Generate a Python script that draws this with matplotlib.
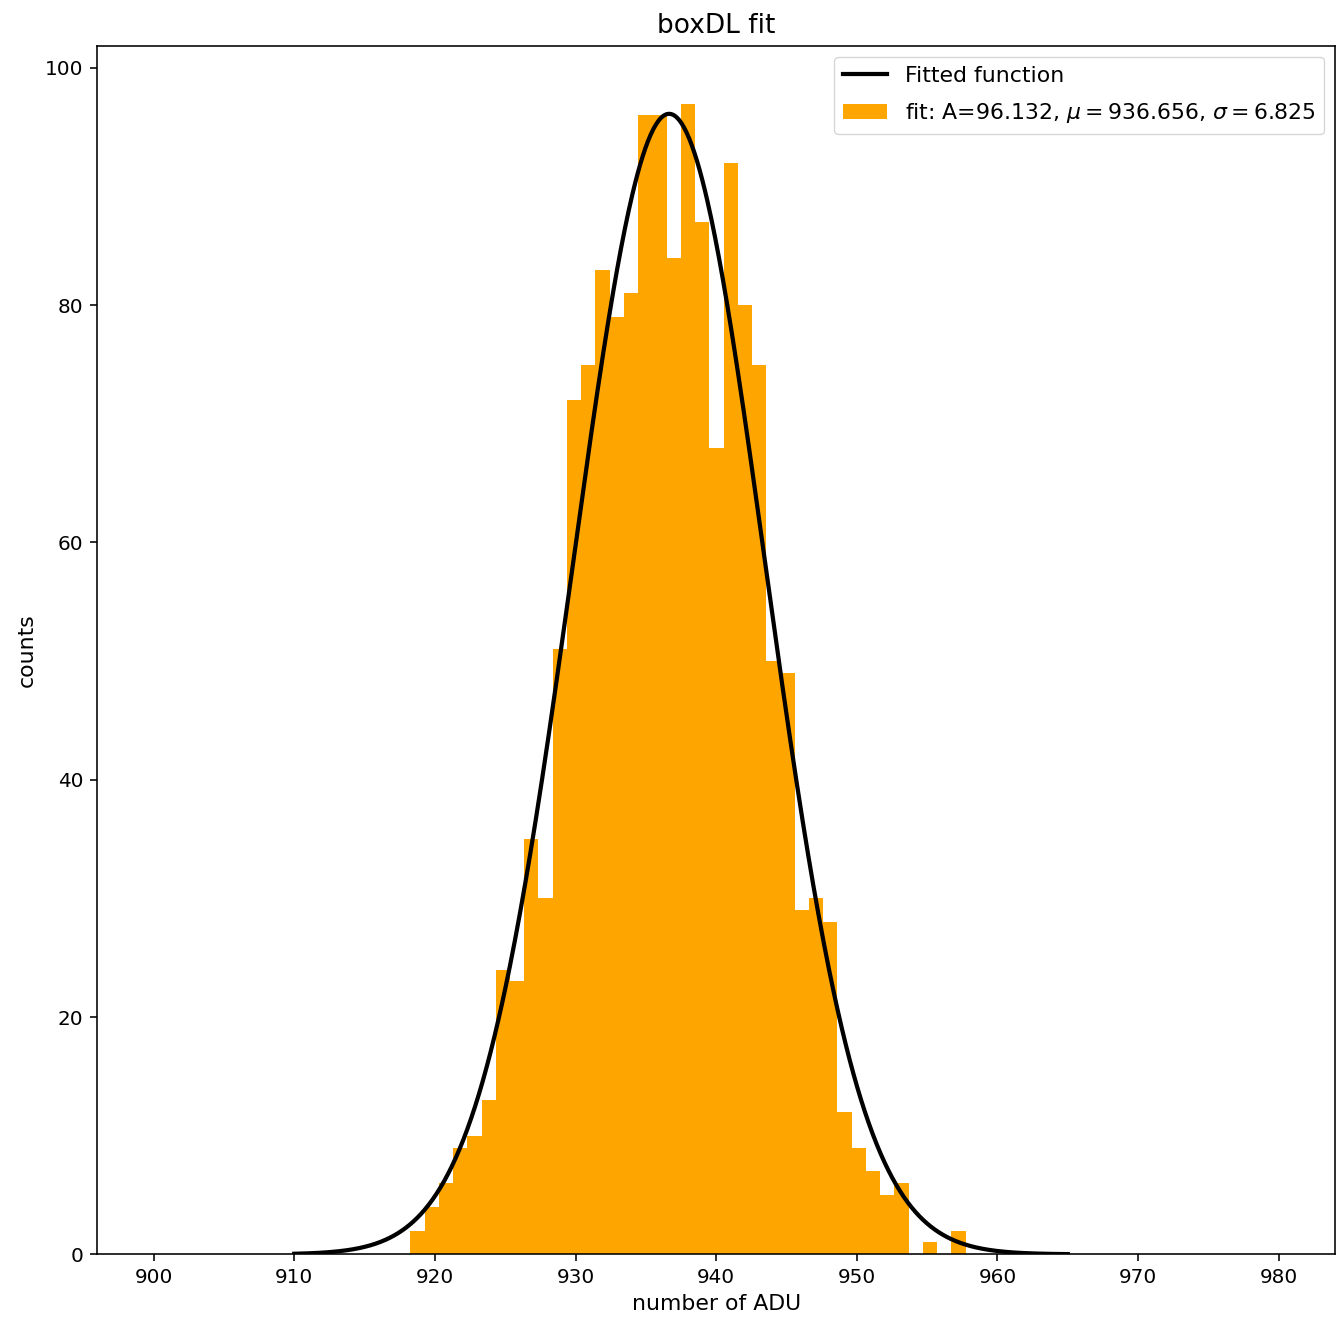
import numpy as np
import matplotlib
matplotlib.use("Agg")
import matplotlib.pyplot as plt

# ---- data ----
bin_lo = 918.26
bin_hi = 957.73
counts = [2, 4, 6, 9, 10, 13, 24, 23, 35, 30,
          51, 72, 75, 83, 79, 81, 96, 96, 84, 97,
          87, 68, 92, 80, 75, 50, 49, 29, 30, 28,
          12, 9, 7, 5, 6, 0, 1, 0, 2]
fit_A = 96.132
fit_mu = 936.656
fit_sigma = 6.825
curve_x_range = (910, 965)
x_limits = (896, 984)
x_ticks = [900, 910, 920, 930, 940, 950, 960, 970, 980]
y_ticks = [0, 20, 40, 60, 80, 100]

DPI = 100
PX = 72.0 / DPI  # points per pixel

plt.rcParams['font.family'] = ['DejaVu Sans']
plt.rcParams['font.size'] = 22 * PX

fig = plt.figure(figsize=(13.43, 13.26), dpi=DPI)
ax = fig.add_axes([0.07245, 0.05407, 0.99404 - 0.07245, 0.96531 - 0.05407])

edges = np.linspace(bin_lo, bin_hi, len(counts) + 1)
xs = np.linspace(curve_x_range[0], curve_x_range[1], 600)
gauss = fit_A * np.exp(-(xs - fit_mu) ** 2 / (2 * fit_sigma ** 2))

line, = ax.plot(xs, gauss, color='black', lw=4.2 * PX, label='Fitted function')
_, _, patches = ax.hist(edges[:-1], bins=edges, weights=counts, color='orange',
                        label='fit: A=%5.3f, $\\mu=$%5.3f, $\\sigma=$%5.3f' % (fit_A, fit_mu, fit_sigma))

ax.set_xlim(*x_limits)
ax.set_xticks(x_ticks)
ax.set_yticks(y_ticks)

ax.set_title('boxDL fit', fontsize=26.4 * PX, pad=13 * PX)
ax.set_xlabel('number of ADU', fontsize=22 * PX, labelpad=7 * PX)
ax.set_ylabel('counts', fontsize=22 * PX, labelpad=8 * PX)

ax.tick_params(axis='both', labelsize=20 * PX, length=7 * PX, width=1.6 * PX, pad=7 * PX)
for s in ax.spines.values():
    s.set_linewidth(1.6 * PX)

ax.legend(handles=[line, patches[0]], loc='upper right', fontsize=22 * PX,
          labelspacing=0.7)

fig.savefig('out.png', dpi=DPI)
